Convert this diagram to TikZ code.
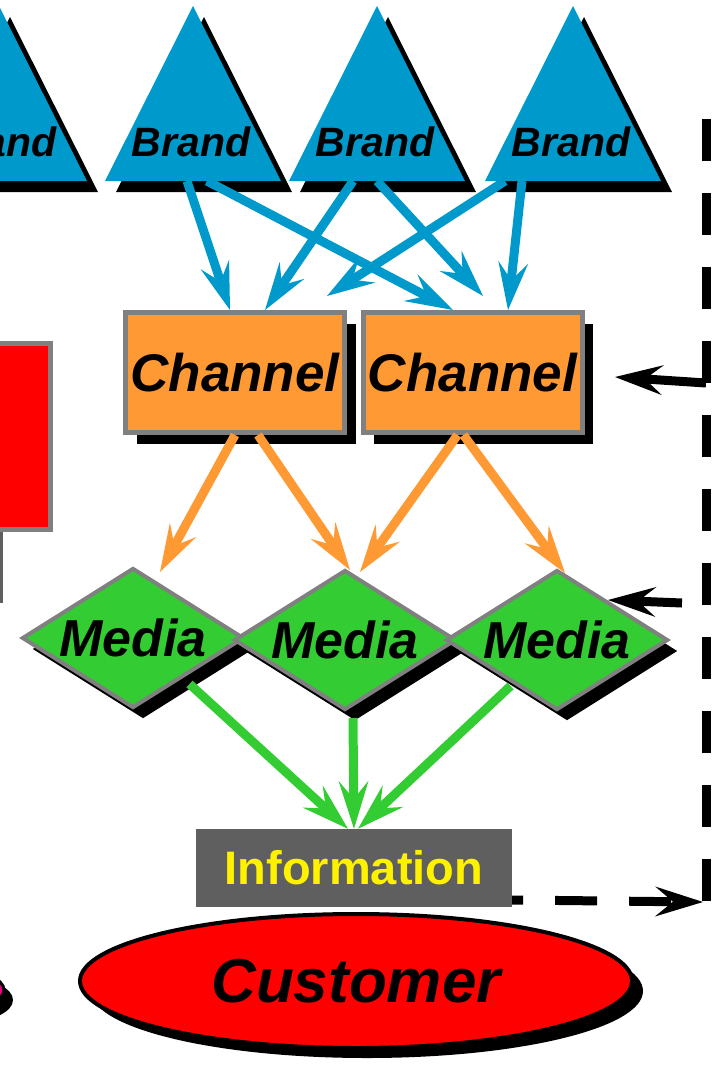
\documentclass[tikz,border=0pt]{standalone}
\usepackage{fontspec}
\setmainfont{Liberation Sans}
\usepackage[svgnames]{xcolor}
\usetikzlibrary{arrows.meta, shapes.geometric, shadows}

\definecolor{brandblue}{HTML}{0099CC}
\definecolor{chanorange}{HTML}{FF9933}
\definecolor{mediagreen}{HTML}{33CC33}
\definecolor{edgegray}{HTML}{808080}
\definecolor{infogray}{HTML}{5F5F5F}

\tikzset{
    bigtip/.style={-{Stealth[length=48pt, width=30pt, inset=18pt, line width=0pt]}},
    brandtext/.style={font=\fontsize{41}{41}\selectfont\bfseries\itshape},
    chanbox/.style={
            draw=edgegray, line width=5pt, fill=chanorange,
            minimum width=219pt, minimum height=120pt, inner sep=0pt,
            font=\fontsize{53}{53}\selectfont\bfseries\itshape,
            drop shadow={shadow xshift=11pt, shadow yshift=-11pt, opacity=1, fill=black}
        },
    mediabox/.style={
            diamond, aspect=1.6, draw=edgegray, line width=4pt, fill=mediagreen,
            minimum width=222pt, minimum height=140pt, inner sep=0pt,
            font=\fontsize{52}{52}\selectfont\bfseries\itshape,
            drop shadow={shadow xshift=10pt, shadow yshift=-11pt, opacity=1, fill=black}
        },
    infobox/.style={
            fill=infogray, text=yellow, minimum width=316pt, minimum height=78pt,
            inner sep=0pt, font=\fontsize{47}{47}\selectfont\bfseries
        },
    custbox/.style={
            ellipse, draw=black, line width=4pt, fill=red,
            minimum width=552pt, minimum height=134pt, inner sep=0pt,
            font=\fontsize{62}{62}\selectfont\bfseries\itshape,
            drop shadow={shadow xshift=11pt, shadow yshift=-10pt, opacity=1, fill=black}
        },
    bluearrow/.style={bigtip, draw=brandblue, line width=9pt},
    orangearrow/.style={bigtip, draw=chanorange, line width=9pt},
    greenarrow/.style={bigtip, draw=mediagreen, line width=9pt},
    railline/.style={draw=black, line width=9pt, dash pattern=on 42pt off 32pt},
    railarrow/.style={bigtip, draw=black, line width=9pt}
}

\begin{document}
\begin{tikzpicture}[x=1pt, y=-1pt]
    \useasboundingbox (0,0) rectangle (721,1069);

    % left parts
    \draw[edgegray, line width=5pt, fill=red] (-60,343.5) rectangle (50.5,529.5);
    \draw[infogray, line width=3pt] (1.5,532) -- (1.5,603);
    \fill[black] (-35,1000) ellipse [x radius=48pt, y radius=22pt];
    \draw[black, line width=3pt, fill=magenta] (-43,990) ellipse [x radius=47pt, y radius=20pt];

    % brands
    \foreach \x/\n in {-1/0, 193/1, 377/2, 573/3}
        {
            \fill[black] (\x+11,17) -- (\x+99,192) -- (\x-77,192) -- cycle;
            \fill[brandblue] (\x,6) -- (\x+88,181) -- (\x-88,181) -- cycle;
            \coordinate (t\n) at (\x,181);
            \node[brandtext] (brand\n) at (\x-2,142) {Brand};
        }

    % channels
    \node[chanbox] (chan1) at (235,372.5) {Channel};
    \node[chanbox] (chan2) at (472.5,372.5) {Channel};

    \draw[bluearrow] ([xshift=-6pt]t1) -- ([xshift=-5pt]chan1.north);
    \draw[bluearrow] ([xshift=14pt]t1) -- ([xshift=-19.5pt]chan2.north);
    \draw[bluearrow] ([xshift=-24pt]t2) -- ([xshift=30pt]chan1.north);
    \draw[bluearrow] (t2) -- ([xshift=10.5pt,yshift=14pt]chan2.north);
    \draw[bluearrow] ([xshift=-68pt]t3) -- ([xshift=92pt,yshift=14pt]chan1.north);
    \draw[bluearrow] ([xshift=-51pt]t3) -- ([xshift=35.5pt]chan2.north);

    % media
    \node[mediabox] (media1) at (133,638) {Media};
    \node[mediabox] (media2) at (345,640) {Media};
    \node[mediabox] (media3) at (557,640) {Media};

    \draw[orangearrow] (chan1.south) -- ([xshift=27pt,yshift=-6pt]media1.north);
    \draw[orangearrow] ([xshift=23pt]chan1.south) -- ([xshift=5pt,yshift=-2pt]media2.north);
    \draw[orangearrow] ([xshift=-15pt]chan2.south) -- ([xshift=15pt,yshift=-4pt]media2.north);
    \draw[orangearrow] ([xshift=-9pt]chan2.south) -- ([xshift=8pt,yshift=-5pt]media3.north);

    % information and customer
    \node[infobox] (info) at (354,868) {Information};
    \node[custbox] (cust) at (356,981) {Customer};

    \draw[greenarrow] ([yshift=-10pt]media1.south east) -- ([xshift=-6pt]info.north);
    \draw[greenarrow] ([xshift=8pt,yshift=-6pt]media2.south) -- (info.north);
    \draw[greenarrow] ([xshift=10pt,yshift=-10pt]media3.south west) -- ([xshift=4pt]info.north);

    % feedback
    \coordinate (railtop) at (706,119);
    \coordinate (railbot) at (706,902);
    \coordinate (railchan) at (706,383);
    \coordinate (railmedia) at (682,603);
    \draw[railline] (railtop) -- (railbot);
    \draw[railline, bigtip, dash phase=31pt] ([yshift=-32pt]info.east) -- ([xshift=-3pt]railbot);
    \draw[railarrow] (railchan) -- ([xshift=30.5pt,yshift=-4.5pt]chan2.east);
    \draw[railarrow] (railmedia) -- ([xshift=-5.5pt,yshift=4pt]media3.north east);

\end{tikzpicture}
\end{document}
